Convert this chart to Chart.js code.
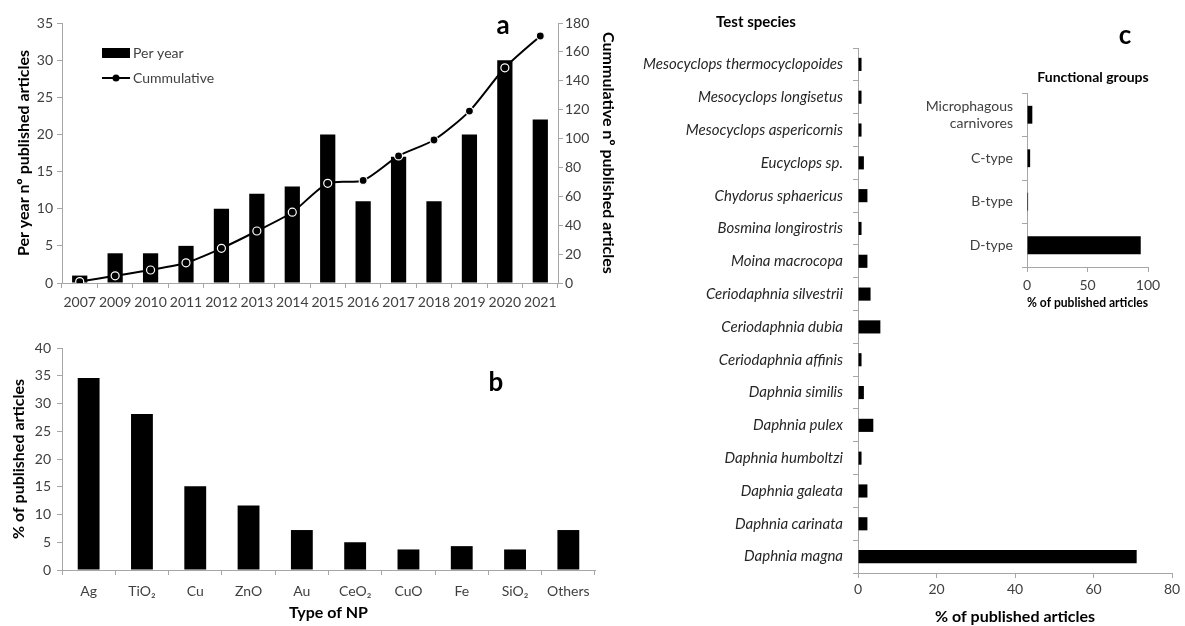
<!DOCTYPE html>
<html>
<head>
<meta charset="utf-8">
<script src="https://cdn.jsdelivr.net/npm/chart.js@4.4.1/dist/chart.umd.min.js"></script>
<style>
    html, body { margin: 0; padding: 0; background: #fff; }
    body { width: 1185px; height: 626px; position: relative; overflow: hidden; }
    .panel { position: absolute; }
</style>
</head>
<body>
<div class="panel" style="left:0;top:0;width:620px;height:318px"><canvas id="chartA"></canvas></div>
<div class="panel" style="left:0;top:318px;width:610px;height:308px"><canvas id="chartB"></canvas></div>
<div class="panel" style="left:600px;top:0;width:585px;height:626px"><canvas id="chartC"></canvas></div>
<div class="panel" style="left:915px;top:60px;width:270px;height:255px"><canvas id="chartInset"></canvas></div>
<script>
// a - artigos por ano
const years = ['2007', '2009', '2010', '2011', '2012', '2013', '2014', '2015', '2016', '2017', '2018', '2019', '2020', '2021'];
const perYear = [1, 4, 4, 5, 10, 12, 13, 20, 11, 17, 11, 20, 30, 22];
const cumulative = [1, 5, 9, 14, 24, 36, 49, 69, 71, 88, 99, 119, 149, 171];

// b - tipo de NP
const npTypes = ['Ag', 'TiO₂', 'Cu', 'ZnO', 'Au', 'CeO₂', 'CuO', 'Fe', 'SiO₂', 'Others'];
const npPercent = [34.6, 28.1, 15.1, 11.6, 7.2, 5.0, 3.7, 4.3, 3.7, 7.2];

// c - espécies testadas
const species = [
    'Mesocyclops thermocyclopoides', 'Mesocyclops longisetus', 'Mesocyclops aspericornis',
    'Eucyclops sp.', 'Chydorus sphaericus', 'Bosmina longirostris', 'Moina macrocopa',
    'Ceriodaphnia silvestrii', 'Ceriodaphnia dubia', 'Ceriodaphnia affinis', 'Daphnia similis',
    'Daphnia pulex', 'Daphnia humboltzi', 'Daphnia galeata', 'Daphnia carinata', 'Daphnia magna'
];
const speciesPercent = [0.9, 0.9, 0.9, 1.5, 2.4, 0.9, 2.4, 3.2, 5.7, 0.9, 1.5, 3.9, 0.9, 2.4, 2.4, 71];

// c (inset) - grupos funcionais
const groups = [['Microphagous', 'carnivores'], 'C-type', 'B-type', 'D-type'];
const groupPercent = [4.4, 2.6, 0.9, 94];

const FONT = 'Lato, "Open Sans", sans-serif';
const axisColor = '#a6a6a6';
const tickColor = '#404040';

Chart.defaults.font.family = FONT;
Chart.defaults.color = tickColor;

// textos soltos (letras dos painéis, títulos)
const extraText = {
    id: 'extraText',
    afterDraw(chart, args, opts) {
        const ctx = chart.ctx;
        (opts.items || []).forEach(t => {
            ctx.save();
            ctx.font = t.font;
            ctx.fillStyle = t.color || '#000';
            ctx.textAlign = t.align || 'center';
            ctx.textBaseline = 'middle';
            ctx.fillText(t.text, t.x, t.y);
            ctx.restore();
        });
    }
};

// legenda do painel a
const legendA = {
    id: 'legendA',
    afterDraw(chart) {
        const ctx = chart.ctx;
        ctx.save();
        ctx.fillStyle = '#000';
        ctx.fillRect(102, 48, 28, 10);
        ctx.strokeStyle = '#000';
        ctx.lineWidth = 2;
        ctx.beginPath();
        ctx.moveTo(102, 78);
        ctx.lineTo(130, 78);
        ctx.stroke();
        ctx.beginPath();
        ctx.arc(116, 78, 3.5, 0, Math.PI * 2);
        ctx.fill();
        ctx.font = '14px ' + FONT;
        ctx.fillStyle = tickColor;
        ctx.textBaseline = 'middle';
        ctx.fillText('Per year', 133, 53);
        ctx.fillText('Cummulative', 133, 78);
        ctx.restore();
    }
};

const grid = () => ({ drawOnChartArea: false, drawTicks: true, tickLength: 5, color: axisColor });
const border = () => ({ display: true, color: axisColor, width: 1 });
const boldTitle = (text, size, padding) => ({
    display: true, text: text, color: '#000',
    font: { family: FONT, size: size, weight: 'bold' }, padding: padding
});
const baseOptions = {
    responsive: true,
    maintainAspectRatio: false,
    animation: false,
    plugins: { legend: { display: false }, tooltip: { enabled: false } }
};

new Chart(document.getElementById('chartA'), {
    data: {
        labels: years,
        datasets: [
            {
                type: 'line', label: 'Cummulative', data: cumulative, yAxisID: 'y1', order: 0,
                borderColor: '#000', borderWidth: 2, tension: 0.25,
                pointRadius: 4, pointBackgroundColor: '#000', pointBorderColor: '#fff', pointBorderWidth: 1.2
            },
            {
                type: 'bar', label: 'Per year', data: perYear, yAxisID: 'y', order: 1,
                backgroundColor: '#000', categoryPercentage: 1, barPercentage: 0.43
            }
        ]
    },
    options: {
        ...baseOptions,
        layout: { padding: { top: 23 } },
        scales: {
            x: {
                grid: { ...grid(), offset: true }, border: border(),
                ticks: { color: tickColor, font: { size: 14 }, padding: 6, maxRotation: 0, autoSkip: false },
                afterFit(s) { s.height = 35; }
            },
            y: {
                position: 'left', min: 0, max: 35,
                grid: grid(), border: border(),
                ticks: { stepSize: 5, color: tickColor, font: { size: 14 }, padding: 4 },
                title: boldTitle('Per year nº published articles', 16, { top: 14, bottom: 0 }),
                afterFit(s) { s.width = 62; }
            },
            y1: {
                position: 'right', min: 0, max: 180,
                grid: grid(), border: border(),
                ticks: { stepSize: 20, color: tickColor, font: { size: 14 }, padding: 2 },
                title: boldTitle('Cummulative nº published articles', 16, { top: 2, bottom: 0 }),
                afterFit(s) { s.width = 62; }
            }
        },
        plugins: {
            ...baseOptions.plugins,
            extraText: { items: [{ text: 'a', x: 503, y: 26, font: 'bold 26px ' + FONT }] }
        }
    },
    plugins: [extraText, legendA]
});

new Chart(document.getElementById('chartB'), {
    type: 'bar',
    data: {
        labels: npTypes,
        datasets: [{ data: npPercent, backgroundColor: '#000', categoryPercentage: 1, barPercentage: 0.41 }]
    },
    options: {
        ...baseOptions,
        layout: { padding: { top: 30, right: 15 } },
        scales: {
            x: {
                grid: { ...grid(), offset: true }, border: border(),
                ticks: { color: tickColor, font: { size: 14 }, padding: 8, maxRotation: 0, autoSkip: false },
                title: boldTitle('Type of NP', 16, { top: 0, bottom: 4 }),
                afterFit(s) { s.height = 56; }
            },
            y: {
                min: 0, max: 40,
                grid: grid(), border: border(),
                ticks: { stepSize: 5, color: tickColor, font: { size: 14 }, padding: 6 },
                title: boldTitle('% of published articles', 16, { top: 9, bottom: 0 }),
                afterFit(s) { s.width = 62; }
            }
        },
        plugins: {
            ...baseOptions.plugins,
            extraText: { items: [{ text: 'b', x: 496, y: 65, font: 'bold 26px ' + FONT }] }
        }
    },
    plugins: [extraText]
});

new Chart(document.getElementById('chartC'), {
    type: 'bar',
    data: {
        labels: species,
        datasets: [{ data: speciesPercent, backgroundColor: '#000', categoryPercentage: 1, barPercentage: 0.4 }]
    },
    options: {
        ...baseOptions,
        indexAxis: 'y',
        layout: { padding: { top: 48, right: 13 } },
        scales: {
            x: {
                min: 0, max: 80,
                grid: grid(), border: border(),
                ticks: { stepSize: 20, color: tickColor, font: { size: 14 }, padding: 3 },
                title: boldTitle('% of published articles', 16, { top: 0, bottom: 0 }),
                afterFit(s) { s.height = 53; }
            },
            y: {
                grid: { ...grid(), offset: true }, border: border(),
                ticks: { color: '#262626', font: { size: 15, style: 'italic' }, padding: 10, autoSkip: false },
                afterFit(s) { s.width = 258; }
            }
        },
        plugins: {
            ...baseOptions.plugins,
            extraText: {
                items: [
                    { text: 'Test species', x: 156, y: 22, font: 'bold 15px ' + FONT },
                    { text: 'c', x: 525, y: 36, font: 'bold 26px ' + FONT }
                ]
            }
        }
    },
    plugins: [extraText]
});

new Chart(document.getElementById('chartInset'), {
    type: 'bar',
    data: {
        labels: groups,
        datasets: [{ data: groupPercent, backgroundColor: '#000', categoryPercentage: 1, barPercentage: 0.41 }]
    },
    options: {
        ...baseOptions,
        indexAxis: 'y',
        layout: { padding: { top: 33, right: 37 } },
        scales: {
            x: {
                min: 0, max: 100,
                grid: grid(), border: border(),
                ticks: { stepSize: 50, color: tickColor, font: { size: 14 }, padding: 5 },
                title: boldTitle('% of published articles', 13.5, { top: 0, bottom: 4 }),
                afterFit(s) { s.height = 48; }
            },
            y: {
                grid: { ...grid(), offset: true }, border: border(),
                ticks: { color: tickColor, font: { size: 14 }, padding: 9, autoSkip: false },
                afterFit(s) { s.width = 112; }
            }
        },
        plugins: {
            ...baseOptions.plugins,
            extraText: { items: [{ text: 'Functional groups', x: 178, y: 17, font: 'bold 14px ' + FONT }] }
        }
    },
    plugins: [extraText]
});
</script>
</body>
</html>
